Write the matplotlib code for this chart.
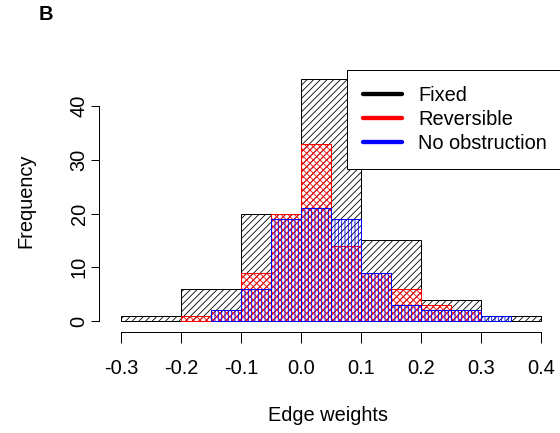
import matplotlib
matplotlib.use("Agg")
import matplotlib.pyplot as plt
from matplotlib.lines import Line2D

# histogram bins
fixed_left = [-0.3, -0.2, -0.1, 0.0, 0.1, 0.2, 0.3]
fixed_counts = [1, 6, 20, 45, 15, 4, 1]

rev_left = [-0.2, -0.15, -0.1, -0.05, 0.0, 0.05, 0.1, 0.15, 0.2, 0.25]
rev_counts = [1, 2, 9, 20, 33, 14, 9, 6, 3, 2]

noobs_left = [-0.15, -0.1, -0.05, 0.0, 0.05, 0.1, 0.15, 0.2, 0.25, 0.3]
noobs_counts = [2, 6, 19, 21, 19, 9, 3, 2, 2, 1]

x_ticks = [-0.3, -0.2, -0.1, 0.0, 0.1, 0.2, 0.3, 0.4]
x_labels = ["-0.3", "-0.2", "-0.1", "0.0", "0.1", "0.2", "0.3", "0.4"]
y_ticks = [0, 10, 20, 30, 40]

labels = ["Fixed", "Reversible", "No obstruction"]
colors = ["black", "red", "blue"]

plt.rcParams['font.family'] = ['Liberation Sans', 'DejaVu Sans']
plt.rcParams['font.size'] = 12
plt.rcParams['hatch.linewidth'] = 0.5

W, H = 560, 433
dpi = 120
fig = plt.figure(figsize=(W / dpi, H / dpi), dpi=dpi)
# axes box in pixels: left 99, right 558, top 69, bottom 332
ax = fig.add_axes([99 / W, (H - 332) / H, (558 - 99) / W, (332 - 69) / H])

def hatched_hist(left, counts, width, hatch, color):
    bars = ax.bar(left, counts, width=width, align='edge', fill=False,
                  edgecolor=color, linewidth=0.6)
    for b in bars:
        b.set_hatch(hatch)

hatched_hist(fixed_left, fixed_counts, 0.1, '/' * 6, 'black')
hatched_hist(rev_left, rev_counts, 0.05, 'x' * 6, 'red')
hatched_hist(noobs_left, noobs_counts, 0.05, '|' * 6, 'blue')

# R style detached axes
ax.set_xlim(-0.3 - 22 / 600, 0.4 + 17 / 600)
ax.set_ylim(-11 / 5.375, 40 + 37 / 5.375)
ax.spines['top'].set_visible(False)
ax.spines['right'].set_visible(False)
ax.spines['left'].set_bounds(0, 40)
ax.spines['bottom'].set_bounds(-0.3, 0.4)
ax.spines['left'].set_linewidth(0.6)
ax.spines['bottom'].set_linewidth(0.6)

ax.set_xticks(x_ticks)
ax.set_xticklabels(x_labels)
ax.set_yticks(y_ticks)
ax.set_yticklabels([str(v) for v in y_ticks], rotation=90, va='center')
ax.tick_params(axis='x', length=6.6, width=0.6, pad=9.5)
ax.tick_params(axis='y', length=4.8, width=0.6, pad=1.5)

ax.set_xlabel("Edge weights", labelpad=17)
ax.set_ylabel("Frequency", labelpad=20.5)

handles = [Line2D([0], [0], color=c, lw=2.6, solid_capstyle='round') for c in colors]
leg = ax.legend(handles, labels, loc='upper left',
                bbox_to_anchor=(347 / W, (H - 70) / H), bbox_transform=fig.transFigure,
                borderaxespad=0, fancybox=False, framealpha=1, edgecolor='black',
                handlelength=1.95, handletextpad=0.8, borderpad=0.8, labelspacing=0.25)
leg.get_frame().set_linewidth(0.6)

fig.text(46 / W, 1 - 15 / H, "B", fontweight='bold', ha='center', va='center')

fig.savefig("out.png", dpi=dpi)
